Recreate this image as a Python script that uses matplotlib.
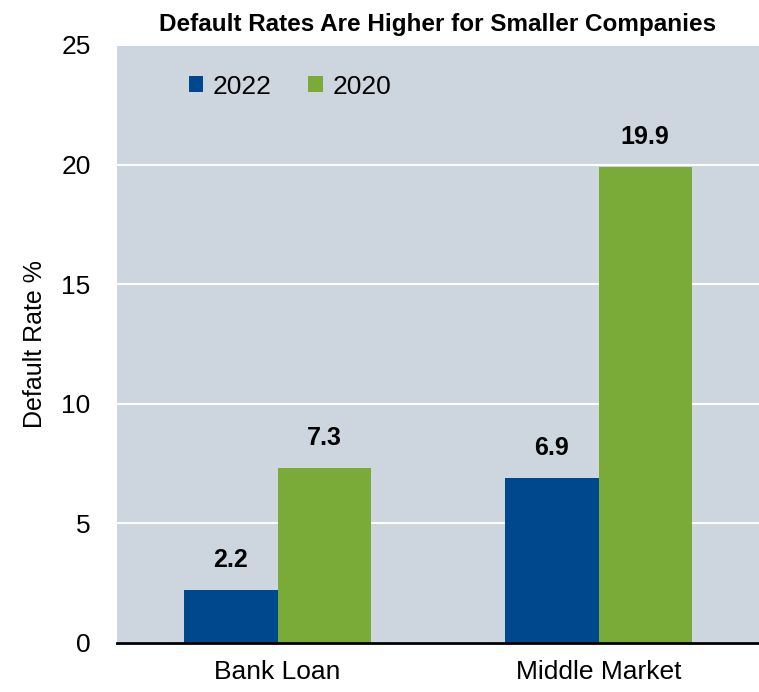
import matplotlib
matplotlib.use("Agg")
import matplotlib.pyplot as plt
import numpy as np

plt.rcParams['font.family'] = ['Liberation Sans Narrow', 'Liberation Sans', 'DejaVu Sans']

categories = ["Bank Loan", "Middle Market"]
series_names = ["2022", "2020"]
rates_2022 = [2.2, 6.9]
rates_2020 = [7.3, 19.9]
yticks = [0, 5, 10, 15, 20, 25]

blue = "#00488d"
green = "#7aab38"
bg = "#cdd6df"

fig = plt.figure(figsize=(7.59, 6.92), dpi=100)
ax = fig.add_axes([117 / 759, 1 - 643 / 692, 642 / 759, 598 / 692])
ax.set_facecolor(bg)

x = np.arange(len(categories))
w = 0.29
b1 = ax.bar(x - w / 2, rates_2022, w, color=blue, label=series_names[0], zorder=3)
b2 = ax.bar(x + w / 2, rates_2020, w, color=green, label=series_names[1], zorder=3)

# value labels above each bar
for bars, vals in ((b1, rates_2022), (b2, rates_2020)):
    for rect, v in zip(bars, vals):
        ax.text(rect.get_x() + rect.get_width() / 2, v + 0.75, f"{v:.1f}",
                ha="center", va="bottom", fontsize=18, fontweight="bold")

ax.set_xlim(-0.5, 1.5)
ax.set_ylim(0, 25)
ax.set_yticks(yticks)
ax.set_yticklabels([str(t) for t in yticks], fontsize=19)
ax.set_xticks(x)
ax.set_xticklabels(categories, fontsize=19)
ax.tick_params(axis="x", length=0, pad=12)
ax.tick_params(axis="y", length=0, pad=19)
ax.grid(axis="y", color="white", linewidth=1.5, zorder=1)

for side in ("top", "right", "left"):
    ax.spines[side].set_visible(False)
ax.spines["bottom"].set_linewidth(2)
ax.spines["bottom"].set_zorder(4)

ax.set_ylabel("Default Rate %", fontsize=18, labelpad=10)
ax.set_title("Default Rates Are Higher for Smaller Companies",
             fontsize=17.5, fontweight="bold", pad=10)

ax.legend(loc="upper left", bbox_to_anchor=(0.075, 0.99), ncol=2, frameon=False,
          fontsize=19, handlelength=0.55, handleheight=0.55, handletextpad=0.35,
          columnspacing=1.4)

fig.savefig("out.png", dpi=100)
